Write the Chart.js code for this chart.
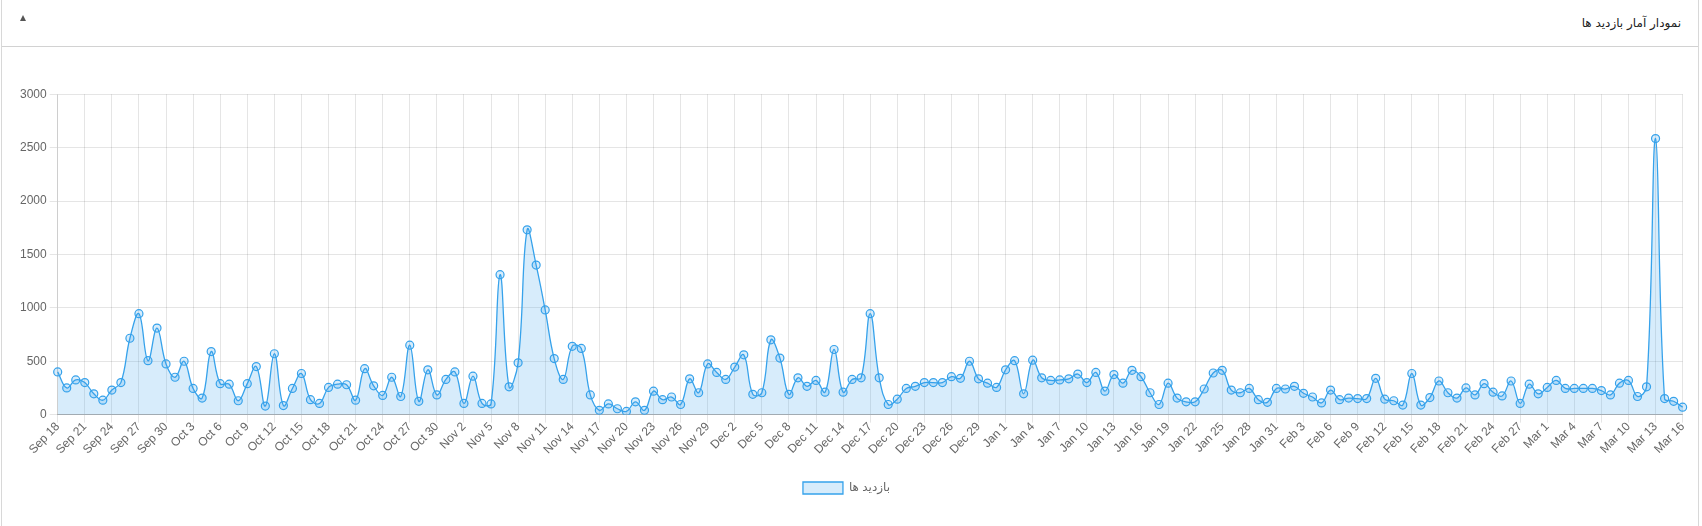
<!DOCTYPE html>
<html><head><meta charset="utf-8">
<script src="https://cdn.jsdelivr.net/npm/chart.js@4.4.1/dist/chart.umd.min.js"></script>
<style>
html,body{margin:0;padding:0;background:#fff;width:1702px;height:526px;overflow:hidden;}
.panel{position:absolute;left:1px;top:-1px;width:1698px;height:560px;border:1px solid #d8d8d8;box-sizing:border-box;}
.head{position:absolute;left:0;top:0;right:0;height:46px;border-bottom:1px solid #d2d2d2;}
.title{position:absolute;right:17px;top:16px;font:12px 'DejaVu Sans',Tahoma,sans-serif;color:#222;direction:rtl;white-space:nowrap;}
.tri{position:absolute;left:18px;top:15px;width:0;height:0;border-left:3.5px solid transparent;border-right:3.5px solid transparent;border-bottom:6px solid #555;}
#wrap{position:absolute;left:17px;top:84px;width:1673px;height:420px;}
</style>
</head><body>
<div class="panel">
  <div class="head"><div class="tri"></div><div class="title">نمودار آمار بازدید ها</div></div>
</div>
<div id="wrap"><canvas id="c"></canvas></div>
<script>
// Category months (label prefix and days shown)
const monthNames = ['Sep','Oct','Nov','Dec','Jan','Feb','Mar'];
const monthStartDay = [18,1,1,1,1,1,1];
const monthEndDay = [30,31,30,31,31,29,16];

// Visits per day
const sepVisits = [400,250,325,300,195,135,230,300,715,945,505,810,475];
const octVisits = [350,500,245,155,590,290,285,130,290,450,80,570,85,245,385,140,105,255,285,280,135,430,270,180,350,170,650,125,420,185,330];
const novVisits = [400,105,360,105,100,1310,260,485,1730,1400,980,525,330,640,620,185,40,100,55,30,120,40,220,140,165,95,335,205,475,395];
const decVisits = [330,445,560,190,205,700,530,190,345,265,320,210,610,210,330,345,945,345,95,145,245,265,300,300,300,355,340,500,335,295,255];
const janVisits = [420,505,195,510,345,320,325,335,380,300,395,220,375,295,415,355,205,95,295,155,120,120,240,390,415,230,205,245,140,115,245];
const febVisits = [240,265,200,165,110,230,140,155,150,150,340,145,130,90,385,90,160,315,205,155,250,185,290,210,175,315,105,285,195];
const marVisits = [255,320,245,245,245,245,225,185,295,320,170,260,2585,150,125,70];

const yTicks = {min:0, max:3000, step:500};
const seriesLabel = 'بازدید ها';

const labels = [];
monthNames.forEach((m,i)=>{ for(let d=monthStartDay[i]; d<=monthEndDay[i]; d++) labels.push(m+' '+d); });
const visits = [].concat(sepVisits,octVisits,novVisits,decVisits,janVisits,febVisits,marVisits);

Chart.defaults.font.family = "'Liberation Sans', Arial, 'DejaVu Sans', sans-serif";
Chart.defaults.font.size = 12;
Chart.defaults.color = '#666';

const legendShift = {
  id:'legendShift',
  afterLayout(chart){ const l = chart.legend; if(l){ l.left -= 7; l.right -= 7; } }
};

new Chart(document.getElementById('c'), {
  type:'line',
  data:{labels:labels, datasets:[{
    label:seriesLabel, data:visits,
    borderColor:'#36a2eb', backgroundColor:'rgba(54,162,235,0.2)',
    fill:'origin', borderWidth:1.3, tension:0.4,
    pointRadius:4, pointBorderWidth:1.2,
    pointBorderColor:'#36a2eb', pointBackgroundColor:'rgba(54,162,235,0.2)'
  }]},
  plugins:[legendShift],
  options:{
    responsive:true, maintainAspectRatio:false, animation:false,
    plugins:{
      legend:{position:'bottom', labels:{boxWidth:40, boxHeight:12, color:'#666'}},
      tooltip:{enabled:false}
    },
    scales:{
      x:{
        grid:{color:'rgba(0,0,0,0.1)', tickLength:8},
        border:{color:'rgba(0,0,0,0.25)'},
        afterFit:function(s){ s.height += 18; },
        ticks:{autoSkip:false, minRotation:46, maxRotation:46, padding:-3,
          callback:function(v,i){ return i%3===0 ? this.getLabelForValue(v) : null; }}
      },
      y:{
        min:yTicks.min, max:yTicks.max,
        grid:{color:'rgba(0,0,0,0.1)', tickLength:8},
        border:{color:'rgba(0,0,0,0.1)'},
        ticks:{stepSize:yTicks.step, callback:function(v){ return String(v); }}
      }
    }
  }
});
</script>
</body></html>
